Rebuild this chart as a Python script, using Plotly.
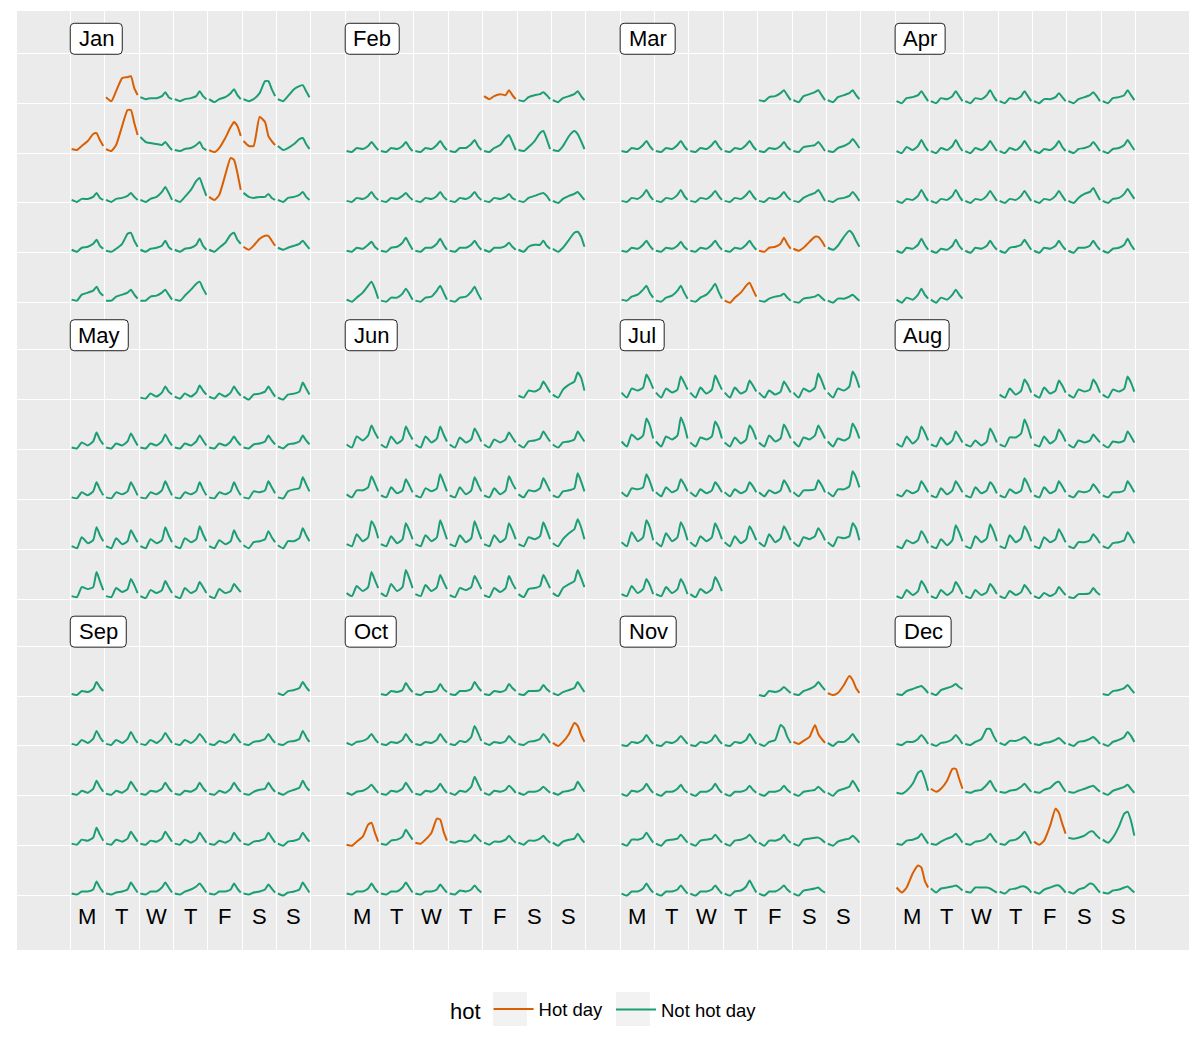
import datetime as dt
import plotly.graph_objects as go

# ---------------- data (hourly demand profile) ----------------
YEAR = 2013
months = ["Jan", "Feb", "Mar", "Apr", "May", "Jun",
          "Jul", "Aug", "Sep", "Oct", "Nov", "Dec"]
weekday_labels = ["M", "T", "W", "T", "F", "S", "S"]
hours = [0, 4, 7.5, 12, 16, 18.5, 21, 23.5]   # hour of day of each reading

demand_jan = [
    [6,2,12,25,26,27,15,8], [6,4,5,5,7,11,6,4], [4,2,4,5,7,12,7,4], [4,1,4,6,10,14,8,4],
    [4,2,4,10,22,22,14,7], [4,2,7,14,17,18,12,6], [4,3,7,12,19,20,13,7], [4,2,8,27,43,43,30,18],
    [16,11,10,9,8,11,7,3], [3,2,4,5,8,11,5,3], [3,1,5,15,26,31,27,17], [12,7,7,36,31,17,12,8],
    [7,3,5,9,14,15,9,4], [3,1,4,4,6,10,5,3], [3,1,4,5,7,10,6,3], [3,1,4,6,11,16,10,3],
    [3,1,6,13,22,25,16,7], [6,3,8,28,45,43,30,13], [10,6,5,6,6,9,5,3], [3,1,5,6,8,11,6,3],
    [3,1,5,6,9,13,7,4], [2,1,4,9,19,20,12,6], [3,1,4,5,7,12,6,3], [3,1,4,5,8,14,7,3],
    [3,1,5,10,18,20,13,9], [6,3,7,14,17,17,12,7], [5,3,5,7,9,12,8,4], [3,2,8,10,12,16,10,7],
    [2,2,6,8,10,13,8,4], [2,2,6,7,10,13,8,3], [3,2,7,13,19,21,14,8],
]
demand_feb = [
    [7,4,7,9,8,13,8,4], [3,2,6,8,9,11,8,4], [3,1,5,7,9,12,7,3], [2,1,5,4,7,11,7,3],
    [2,1,5,4,7,11,6,2], [2,1,5,4,8,12,7,3], [2,1,5,5,9,13,7,3], [2,1,5,8,15,18,11,3],
    [3,2,6,12,20,22,14,4], [3,2,7,17,22,19,12,4], [2,1,5,4,7,11,6,3], [2,1,5,4,7,10,6,3],
    [2,1,5,4,7,11,6,3], [2,1,5,4,7,11,6,3], [2,1,5,4,6,9,5,3], [2,1,5,7,9,10,7,2],
    [2,0,4,7,9,11,7,3], [2,1,5,4,8,11,6,3], [2,1,5,6,10,15,9,3], [2,1,5,5,9,14,8,3],
    [2,1,5,5,8,12,7,3], [3,1,5,5,7,10,6,3], [3,1,6,8,8,12,7,4], [4,1,5,13,20,21,16,6],
    [3,1,5,10,17,21,14,4], [2,1,5,5,9,14,9,3], [2,1,5,6,12,17,10,3], [2,1,5,6,11,16,9,3],
]
demand_mar = [
    [3,2,6,7,10,13,8,3], [3,1,7,9,11,13,8,3], [3,1,6,8,10,13,8,4], [2,1,5,4,8,12,7,3],
    [2,1,5,4,8,12,7,3], [2,1,5,4,8,12,7,3], [2,1,5,4,8,12,7,3], [2,1,5,4,7,11,6,3],
    [2,1,6,7,8,11,7,2], [2,1,5,7,10,14,10,5], [2,1,5,4,8,13,7,3], [2,1,5,4,8,13,7,3],
    [2,1,5,4,8,12,7,3], [2,1,5,4,8,12,7,3], [2,1,5,4,7,11,6,3], [2,1,5,8,10,13,8,2],
    [2,1,4,5,7,11,7,2], [2,1,5,4,8,12,7,3], [2,1,5,4,7,11,6,3], [2,1,5,4,8,12,7,3],
    [2,1,5,4,8,12,7,3], [2,1,5,6,9,15,9,4], [4,2,5,11,16,16,12,6], [5,3,7,16,22,19,12,6],
    [3,2,6,8,13,17,10,5], [2,1,5,7,12,17,10,4], [2,1,5,8,14,19,11,4], [2,0,5,10,17,20,13,6],
    [2,1,4,6,7,9,5,2], [1,0,4,5,6,8,5,2], [2,0,4,4,6,8,5,2],
]
demand_apr = [
    [2,0,5,6,8,12,7,2], [2,0,5,4,7,12,7,2], [2,0,5,4,8,13,7,2], [2,0,5,4,7,12,7,2],
    [2,0,4,4,6,10,6,2], [2,0,4,6,8,11,7,2], [2,0,5,6,8,13,8,3], [2,0,6,3,7,13,7,2],
    [2,0,5,3,7,13,7,2], [2,0,5,3,7,12,7,2], [2,0,5,3,7,12,7,2], [2,0,4,3,7,12,6,2],
    [2,0,4,5,7,11,7,2], [2,0,4,5,8,13,8,3], [2,0,4,3,7,13,7,2], [2,0,4,3,7,13,7,2],
    [2,0,4,3,7,12,7,2], [2,0,4,3,7,12,7,2], [2,0,4,3,7,12,7,2], [2,0,5,9,11,15,9,3],
    [2,0,4,5,9,14,9,4], [2,0,5,4,8,14,8,3], [2,0,4,3,7,13,7,3], [2,0,5,4,7,12,7,3],
    [2,0,5,6,8,13,8,3], [2,0,5,4,7,12,7,3], [2,0,5,5,7,12,7,3], [2,0,4,5,8,14,8,3],
    [3,0,5,3,8,14,8,4], [3,0,5,3,8,13,8,4],
]
demand_may = [
    [2,1,6,3,7,13,8,5], [3,1,6,3,7,14,9,5], [3,1,6,3,7,13,8,4], [3,0,5,6,8,13,8,3],
    [2,0,5,6,8,17,11,5], [2,1,7,4,8,17,10,5], [2,1,6,4,8,16,10,4], [2,1,6,4,8,15,9,4],
    [2,1,6,4,8,14,9,4], [2,1,6,4,8,13,8,4], [2,1,5,6,8,14,9,5], [3,1,5,6,8,14,9,5],
    [2,1,7,4,8,17,10,4], [2,1,7,5,8,17,11,4], [2,1,7,5,9,18,11,4], [2,1,7,5,8,17,10,4],
    [2,1,7,5,8,17,10,4], [2,1,8,7,9,18,12,6], [2,1,8,10,11,22,15,8], [3,1,12,6,9,22,14,8],
    [3,1,11,5,8,19,13,7], [3,1,10,6,9,22,14,7], [3,1,11,7,10,23,15,8], [3,1,9,5,8,19,12,7],
    [4,1,7,8,10,18,12,7], [4,1,8,8,11,21,14,8], [3,2,12,10,12,27,18,9], [3,2,11,7,10,20,14,6],
    [3,1,9,6,9,18,12,6], [3,1,11,6,9,17,12,6], [3,1,10,6,8,15,11,7],
]
demand_jun = [
    [4,2,9,8,11,18,13,7], [5,2,10,15,18,27,22,9], [5,2,13,9,14,24,17,11], [5,2,13,6,10,23,16,10],
    [5,2,13,7,11,23,15,8], [5,2,12,7,10,21,15,8], [5,2,10,7,10,17,12,7], [5,2,8,9,11,18,13,8],
    [5,2,7,8,10,18,13,8], [5,2,9,9,12,23,16,8], [4,2,12,6,9,20,14,7], [4,2,11,8,11,25,17,8],
    [4,2,12,5,9,22,15,8], [4,2,11,5,9,23,16,10], [5,2,9,8,11,21,15,8], [4,2,8,9,11,26,18,8],
    [5,3,15,8,12,28,22,11], [5,3,13,6,10,26,19,10], [5,3,14,8,12,29,20,10], [5,3,14,7,11,28,19,10],
    [5,3,14,7,11,26,19,10], [5,3,12,10,13,27,19,10], [6,3,10,16,20,30,22,10], [6,3,13,8,12,27,19,11],
    [6,3,15,8,12,29,21,11], [5,3,14,8,12,24,17,10], [4,2,11,9,12,23,17,10], [4,2,11,7,11,23,16,10],
    [5,2,10,11,13,24,18,11], [6,3,11,15,18,29,21,12],
]
demand_jul = [
    [7,2,11,9,12,25,19,11], [7,2,11,7,10,23,17,10], [7,2,12,6,10,24,17,10], [7,2,12,6,9,19,14,8],
    [7,2,9,5,8,18,13,7], [7,2,11,8,12,26,19,10], [7,2,11,9,13,28,22,12], [8,3,15,10,14,31,24,11],
    [8,3,13,10,14,32,24,11], [7,3,12,10,13,28,22,11], [7,3,12,6,10,24,19,10], [7,3,14,8,11,25,19,11],
    [8,3,12,10,14,24,18,11], [8,3,11,9,12,26,20,11], [7,3,11,10,12,25,18,8], [7,3,12,7,10,20,15,8],
    [7,3,10,6,9,17,13,7], [7,3,10,6,9,17,13,7], [7,3,9,6,9,19,14,7], [7,3,9,9,10,19,14,7],
    [7,3,10,10,13,28,22,12], [7,3,17,8,12,29,22,9], [7,3,16,8,12,27,20,9], [7,3,13,8,12,26,19,10],
    [7,3,13,6,10,23,17,9], [7,3,15,7,11,23,17,9], [7,3,12,10,13,21,16,9], [7,3,12,11,13,26,21,9],
    [5,3,13,6,10,20,14,5], [5,3,12,6,10,20,14,5], [5,2,10,6,10,22,16,8],
]
demand_aug = [
    [5,2,11,5,9,20,15,7], [5,2,12,6,9,19,14,7], [5,2,10,8,10,20,15,7], [5,2,10,8,11,23,17,8],
    [6,3,13,6,11,23,17,9], [5,3,12,5,9,18,13,7], [5,3,9,4,8,21,15,7], [5,3,12,12,16,30,22,11],
    [5,3,13,6,10,20,15,8], [5,2,9,7,9,15,11,7], [5,2,8,7,9,18,13,7], [5,3,9,6,9,18,13,7],
    [4,2,11,5,9,18,13,7], [4,2,12,6,9,17,13,6], [4,2,10,6,9,21,15,7], [4,2,12,6,9,18,13,7],
    [4,2,8,7,9,15,11,6], [4,2,7,7,9,18,13,7], [3,1,9,6,9,18,13,6], [3,1,10,4,9,24,17,8],
    [3,1,13,7,11,25,18,8], [3,1,14,7,11,23,17,8], [3,1,12,7,10,20,14,7], [3,1,7,7,9,15,11,6],
    [3,1,6,7,9,17,12,6], [3,1,9,4,8,18,13,6], [3,1,9,4,8,17,12,5], [3,1,9,4,7,15,11,5],
    [3,1,8,4,7,14,10,5], [3,1,6,3,6,12,8,4], [2,1,5,5,6,11,7,4],
]
demand_sep = [
    [3,1,5,6,8,14,9,5], [2,1,6,3,7,15,9,4], [2,1,6,3,7,14,8,3], [2,1,6,3,7,13,8,3],
    [2,1,6,3,7,12,8,3], [2,1,5,3,6,12,7,3], [2,1,4,5,7,12,7,3], [2,1,4,5,7,15,9,4],
    [2,1,5,3,7,15,9,4], [2,1,5,3,7,14,9,4], [2,1,5,4,7,13,8,4], [2,1,5,4,7,13,8,4],
    [2,1,5,3,7,13,8,4], [2,1,4,6,7,13,8,4], [3,1,4,6,8,15,9,5], [2,1,6,5,8,18,11,5],
    [2,1,6,4,7,14,9,4], [2,1,5,4,7,14,9,4], [2,1,6,3,6,13,8,3], [2,1,5,3,6,13,8,4],
    [2,1,4,5,7,13,8,3], [2,0,4,5,7,13,8,4], [2,1,4,4,6,14,8,3], [2,1,3,4,6,13,8,3],
    [2,1,4,4,8,13,8,3], [2,1,4,6,9,12,8,3], [2,1,4,4,6,12,7,3], [2,1,3,4,6,11,7,3],
    [2,0,3,4,6,13,8,3], [2,1,5,4,7,14,9,5],
]
demand_oct = [
    [2,1,5,4,6,13,8,4], [2,1,4,4,6,12,7,4], [2,1,5,5,7,14,9,5], [2,1,5,4,6,12,8,5],
    [2,1,5,5,6,11,7,4], [3,1,4,6,8,14,9,4], [3,1,4,5,8,12,7,3], [2,1,4,3,6,12,7,3],
    [2,1,4,3,6,12,7,3], [2,1,5,4,9,20,13,5], [3,1,4,3,5,10,6,3], [2,1,4,5,7,12,8,3],
    [3,0,4,12,23,20,11,4], [3,1,4,5,8,11,7,3], [2,1,5,4,7,13,8,3], [2,1,5,4,7,12,7,3],
    [3,1,5,4,9,19,12,5], [3,1,5,4,6,10,7,3], [3,1,4,4,6,9,6,3], [3,1,4,5,7,14,9,4],
    [1,0,4,9,21,23,13,4], [2,1,5,6,9,16,11,6], [3,2,6,13,27,26,14,5], [4,3,5,4,6,11,7,4],
    [3,1,4,4,6,10,6,3], [3,1,5,5,7,10,6,3], [3,0,4,6,7,12,7,3], [2,1,4,4,7,12,7,3],
    [2,1,4,4,8,13,8,3], [2,1,4,4,6,11,7,3], [2,1,5,4,6,10,6,3],
]
demand_nov = [
    [1,0,5,4,6,9,6,3], [2,1,5,7,10,14,10,6], [3,1,3,11,20,16,8,3], [1,0,4,3,6,11,6,2],
    [1,0,4,3,6,10,6,2], [1,0,4,3,6,11,6,2], [1,0,4,3,6,12,7,2], [2,0,4,6,21,18,9,3],
    [4,2,5,9,21,12,7,3], [3,0,4,4,8,12,7,3], [2,0,5,4,7,12,7,3], [2,0,4,4,7,11,6,3],
    [2,0,4,4,7,12,7,3], [2,0,4,4,6,10,6,3], [2,0,4,4,6,10,6,3], [2,0,4,5,6,9,6,3],
    [3,0,5,7,9,15,10,4], [2,0,6,6,8,13,8,3], [2,0,5,6,7,11,7,3], [2,0,5,6,7,11,7,3],
    [2,0,5,6,8,11,7,3], [3,0,5,5,7,11,6,3], [2,0,6,7,8,8,6,3], [2,0,4,6,7,10,7,3],
    [2,0,4,4,7,12,7,3], [2,0,4,4,6,10,6,2], [2,0,4,4,6,10,6,2], [2,0,4,5,9,15,9,3],
    [2,0,4,4,7,10,6,3], [2,0,5,6,7,8,5,3],
]
demand_dec = [
    [2,1,5,6,8,11,7,3], [2,1,4,4,7,11,7,2], [2,0,3,4,7,11,7,2], [2,1,4,7,17,17,10,4],
    [3,1,5,5,7,9,6,2], [2,1,3,4,6,8,5,2], [2,0,4,5,7,9,6,2], [2,0,4,6,9,14,10,4],
    [3,2,5,12,23,25,17,5], [7,4,7,15,27,27,17,7], [4,3,5,6,11,15,9,4], [4,3,5,6,9,12,8,4],
    [4,3,6,8,13,14,9,4], [4,3,5,7,9,10,7,4], [3,1,5,7,9,11,7,3], [2,1,5,6,8,12,7,2],
    [2,1,4,7,9,12,8,3], [2,1,4,5,8,12,7,3], [2,1,5,6,10,14,9,2], [4,1,5,20,37,33,22,12],
    [8,7,8,10,14,14,10,7], [6,3,8,19,32,34,25,10], [8,3,8,22,30,28,15,8], [7,3,7,8,9,10,8,5],
    [4,3,8,8,8,7,5,3], [4,2,6,7,9,9,7,3], [4,2,6,8,10,10,7,3], [4,2,6,8,12,11,7,3],
    [3,2,5,6,8,9,6,3], [2,1,5,7,9,10,7,3], [3,1,6,8,10,12,9,7],
]

hot_jan = [1, 7, 8, 11, 12, 18, 26]
hot_feb = [1]
hot_mar = [22, 23, 28]
hot_apr, hot_may, hot_jun, hot_jul, hot_aug, hot_sep = [], [], [], [], [], []
hot_oct = [13, 21, 23]
hot_nov = [3, 9]
hot_dec = [10, 20, 23]

demand = [demand_jan, demand_feb, demand_mar, demand_apr, demand_may, demand_jun,
          demand_jul, demand_aug, demand_sep, demand_oct, demand_nov, demand_dec]
hot = [hot_jan, hot_feb, hot_mar, hot_apr, hot_may, hot_jun,
       hot_jul, hot_aug, hot_sep, hot_oct, hot_nov, hot_dec]

# ---------------- calendar layout / style ----------------
ROW_H = 49.9          # height of one week row (demand units)
GAP_H = 47.1          # height of the month-label row
PITCH = 5 * ROW_H + GAP_H
COLS_PER_MONTH = 8    # 7 weekdays + 1 gap column
N_WEEK_ROWS = 5

W, H = 1200, 1050
M_L, M_R, M_T, M_B = 17, 11, 11, 100
X_RANGE = [-1.55, 32.55]
PX_PER_X = (W - M_L - M_R) / (X_RANGE[1] - X_RANGE[0])
plot_h = H - M_T - M_B
plot_w = W - M_L - M_R

label_widths = [52, 54, 55, 50, 58, 52, 44, 54, 56, 51, 56, 56]  # px, style only
LABEL_H = 31      # px
LABEL_R = 4       # corner radius, px

HOT_COLOR = "#D95F02"
NOT_COLOR = "#1B9E77"
FONT = "Liberation Sans, Arial, Helvetica, sans-serif"

xs_hot, ys_hot, xs_not, ys_not = [], [], [], []
for m in range(12):
    block, mcol = divmod(m, 4)
    offset = dt.date(YEAR, m + 1, 1).weekday()
    for d, vals in enumerate(demand[m], start=1):
        idx = offset + d - 1
        wd = idx % 7
        row = idx // 7
        if row >= N_WEEK_ROWS:
            row -= N_WEEK_ROWS
        base_y = -(block * PITCH + (row + 1) * ROW_H)
        x0 = mcol * COLS_PER_MONTH + wd
        xs = [x0 + 0.04 + 0.92 * h / 23.5 for h in hours]
        ys = [base_y + v for v in vals]
        if d in hot[m]:
            xs_hot += xs + [None]
            ys_hot += ys + [None]
        else:
            xs_not += xs + [None]
            ys_not += ys + [None]

fig = go.Figure()
fig.add_trace(go.Scatter(x=xs_hot, y=ys_hot, mode="lines", name="Hot day", legend="legend",
                         line=dict(color=HOT_COLOR, width=2, shape="spline", smoothing=0.5),
                         connectgaps=False))
fig.add_trace(go.Scatter(x=xs_not, y=ys_not, mode="lines", name="Not hot day", legend="legend2",
                         line=dict(color=NOT_COLOR, width=2, shape="spline", smoothing=0.5),
                         connectgaps=False))

# grid positions
x_grid = list(range(0, 4 * COLS_PER_MONTH))
y_grid = []
for b in range(3):
    y_grid.append(-(b * PITCH))
    for r in range(N_WEEK_ROWS):
        y_grid.append(-(b * PITCH + (r + 1) * ROW_H))

bottom_line = -(2 * PITCH + N_WEEK_ROWS * ROW_H)
y_top = 42.3
y_bot = bottom_line - 54.5

shapes = []
annotations = []
for m in range(12):
    block, mcol = divmod(m, 4)
    x0 = mcol * COLS_PER_MONTH
    x1 = x0 + label_widths[m] / PX_PER_X
    y0 = -(block * PITCH) - 1
    y1 = y0 + LABEL_H
    rx = LABEL_R / PX_PER_X
    ry = LABEL_R
    path = (f"M {x0 + rx},{y0} L {x1 - rx},{y0} Q {x1},{y0} {x1},{y0 + ry} "
            f"L {x1},{y1 - ry} Q {x1},{y1} {x1 - rx},{y1} "
            f"L {x0 + rx},{y1} Q {x0},{y1} {x0},{y1 - ry} "
            f"L {x0},{y0 + ry} Q {x0},{y0} {x0 + rx},{y0} Z")
    shapes.append(dict(type="path", path=path, xref="x", yref="y",
                       fillcolor="white", line=dict(color="#222222", width=1),
                       layer="above"))
    annotations.append(dict(
        x=(x0 + x1) / 2, y=(y0 + y1) / 2, xref="x", yref="y",
        xanchor="center", yanchor="middle", text=months[m], showarrow=False,
        font=dict(family=FONT, size=22, color="black")))
for mcol in range(4):
    for wd in range(7):
        annotations.append(dict(
            x=mcol * COLS_PER_MONTH + wd + 0.5, y=bottom_line - 21,
            xref="x", yref="y", xanchor="center", yanchor="middle",
            text=weekday_labels[wd], showarrow=False,
            font=dict(family=FONT, size=22, color="black")))

# grey legend key backgrounds (ggplot style)
for kx in (493, 616):
    shapes.append(dict(type="rect", xref="paper", yref="paper",
                       x0=(kx - M_L) / plot_w, x1=(kx + 34 - M_L) / plot_w,
                       y0=(H - M_B - 992) / plot_h, y1=(H - M_B - 1026) / plot_h,
                       fillcolor="#F2F2F2", line=dict(width=0), layer="below"))

legend_y = (H - M_B - 1010) / plot_h
fig.update_layout(
    width=W, height=H,
    margin=dict(l=M_L, r=M_R, t=M_T, b=M_B),
    paper_bgcolor="white", plot_bgcolor="#EBEBEB",
    font=dict(family=FONT, color="black"),
    showlegend=True,
    legend=dict(orientation="h", x=(448 - M_L) / plot_w, xanchor="left",
                y=legend_y, yanchor="middle", itemwidth=40,
                title=dict(text="hot", font=dict(size=22, family=FONT), side="left"),
                font=dict(size=18.5, family=FONT), bgcolor="rgba(0,0,0,0)"),
    legend2=dict(orientation="h", x=(611 - M_L) / plot_w, xanchor="left",
                 y=legend_y, yanchor="middle", itemwidth=40,
                 font=dict(size=18.5, family=FONT), bgcolor="rgba(0,0,0,0)"),
    shapes=shapes,
    annotations=annotations,
)
fig.update_xaxes(range=X_RANGE, tickvals=x_grid, showticklabels=False,
                 showgrid=True, gridcolor="white", gridwidth=1.2, zeroline=False,
                 ticks="", showline=False, fixedrange=True)
fig.update_yaxes(range=[y_bot, y_top], tickvals=y_grid, showticklabels=False,
                 showgrid=True, gridcolor="white", gridwidth=1.2, zeroline=False,
                 ticks="", showline=False, fixedrange=True)

fig.write_html("out.html")
